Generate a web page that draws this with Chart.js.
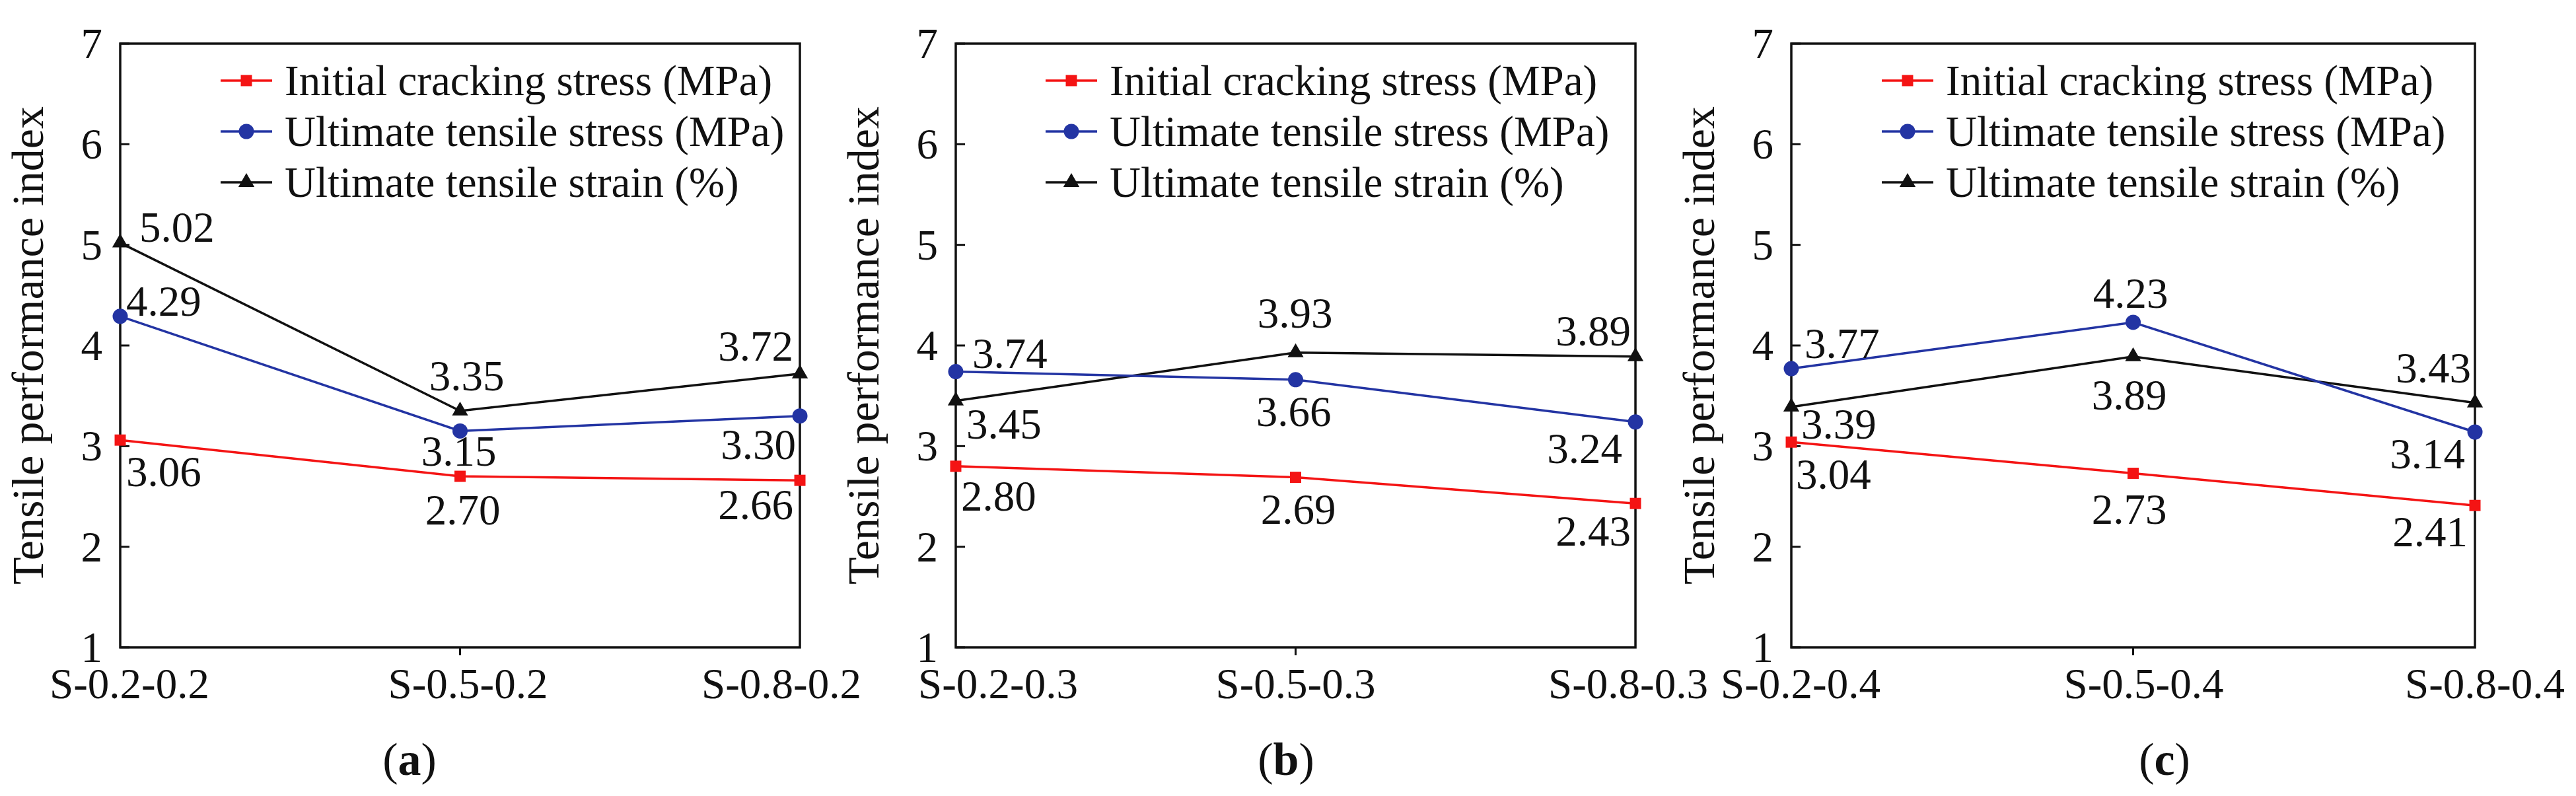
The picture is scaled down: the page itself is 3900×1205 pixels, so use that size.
<!DOCTYPE html>
<html>
<head>
<meta charset="utf-8">
<script src="https://cdn.jsdelivr.net/npm/chart.js@4.4.1/dist/chart.umd.min.js"></script>
<style>
  html, body { margin: 0; padding: 0; background: #fff; }
  body { width: 3900px; height: 1205px; position: relative; overflow: hidden; font-family: "Liberation Serif"; }
  .panel { position: absolute; top: 0; height: 1205px; }
  .cap { position: absolute; top: 1110px; font-size: 70px; color: #111; transform: translateX(-50%); }
  .lbl { position: absolute; white-space: nowrap; line-height: 1; color: #111; font-family: "Liberation Serif"; }
</style>
</head>
<body>
<div class="panel" style="left:-8px;width:1350px"><canvas id="chartA" width="1350" height="1205"></canvas></div>
<div class="panel" style="left:1257px;width:1350px"><canvas id="chartB" width="1350" height="1205"></canvas></div>
<div class="panel" style="left:2522px;width:1356px"><canvas id="chartC" width="1356" height="1205"></canvas></div>
<div class="cap" style="left:620px">(<b>a</b>)</div>
<div class="cap" style="left:1947px">(<b>b</b>)</div>
<div class="cap" style="left:3277px">(<b>c</b>)</div>
<script>
// data
var seriesNames = ['Initial cracking stress (MPa)', 'Ultimate tensile stress (MPa)', 'Ultimate tensile strain (%)'];

var categoriesA = ['S-0.2-0.2', 'S-0.5-0.2', 'S-0.8-0.2'];
var crackA = [3.06, 2.70, 2.66];
var stressA = [4.29, 3.15, 3.30];
var strainA = [5.02, 3.35, 3.72];

var categoriesB = ['S-0.2-0.3', 'S-0.5-0.3', 'S-0.8-0.3'];
var crackB = [2.80, 2.69, 2.43];
var stressB = [3.74, 3.66, 3.24];
var strainB = [3.45, 3.93, 3.89];

var categoriesC = ['S-0.2-0.4', 'S-0.5-0.4', 'S-0.8-0.4'];
var crackC = [3.04, 2.73, 2.41];
var stressC = [3.77, 4.23, 3.14];
var strainC = [3.39, 3.89, 3.43];

var yMin = 1, yMax = 7;
var yTitle = 'Tensile performance index';

Chart.defaults.font.family = '"Liberation Serif"';

var colors = ['#f41414', '#2334a3', '#111111'];
var styles = ['rect', 'circle', 'triangle'];
var radii = [12, 11.5, 14];
var HIDE = 'rgba(0,0,0,0)';

// label placement per series [dx, dy, align] (style only)
var labelPosA = [
  [[9, 48, 'left'], [4, 51, 'center'], [-10, 37, 'right']],
  [[9, -23, 'left'], [-2, 31, 'center'], [-6, 43, 'right']],
  [[29, -24, 'left'], [10, -53, 'center'], [-10, -42, 'right']]
];
var labelPosB = [
  [[8, 45, 'left'], [4, 48, 'center'], [-7, 42, 'right']],
  [[25, -28, 'left'], [-3, 48, 'center'], [-20, 40, 'right']],
  [[16, 35, 'left'], [-1, -60, 'center'], [-7, -39, 'right']]
];
var labelPosC = [
  [[7, 49, 'left'], [-6, 55, 'center'], [-11, 40, 'right']],
  [[20, -38, 'left'], [-4, -44, 'center'], [-15, 33, 'right']],
  [[15, 26, 'left'], [-6, 58, 'center'], [-6, -53, 'right']]
];
var legendRows = [56, 133, 210];

// texts go in an html layer over the canvas, placed from the chart's scales
function putText(layer, text, x, y, align, size, rotate) {
  var d = document.createElement('div');
  d.className = 'lbl';
  d.textContent = text;
  d.style.left = x + 'px';
  d.style.top = y + 'px';
  d.style.fontSize = size + 'px';
  var tx = align === 'left' ? '0' : (align === 'right' ? '-100%' : '-50%');
  d.style.transform = 'translate(' + tx + ',-50%)' + (rotate ? ' rotate(-90deg)' : '');
  layer.appendChild(d);
}

var framePlugin = {
  id: 'frame',
  beforeDatasetsDraw: function (chart) {
    var a = chart.chartArea, ctx = chart.ctx, y = chart.scales.y, x = chart.scales.x;
    ctx.save();
    ctx.strokeStyle = '#111';
    ctx.lineWidth = 3.5;
    ctx.strokeRect(a.left, a.top, a.right - a.left, a.bottom - a.top);
    ctx.lineWidth = 3;
    y.ticks.forEach(function (t) {
      var py = y.getPixelForValue(t.value);
      ctx.beginPath(); ctx.moveTo(a.left, py); ctx.lineTo(a.left + 14, py); ctx.stroke();
    });
    var mx = x.getPixelForValue(1);
    ctx.beginPath(); ctx.moveTo(mx, a.bottom); ctx.lineTo(mx, a.bottom + 12); ctx.stroke();
    ctx.restore();
  },
  afterDatasetsDraw: function (chart) {
    var ctx = chart.ctx, opts = chart.options.plugins.frame, a = chart.chartArea;
    ctx.save();
    chart.data.datasets.forEach(function (ds, i) {
      var ly = a.top + legendRows[i];
      var lx = a.left + opts.legendX;
      ctx.strokeStyle = ds.borderColor;
      ctx.lineWidth = 3.5;
      ctx.beginPath(); ctx.moveTo(lx, ly); ctx.lineTo(lx + 78, ly); ctx.stroke();
      ctx.fillStyle = ds.borderColor;
      Chart.helpers.drawPoint(ctx, { pointStyle: ds.pointStyle, radius: ds.pointRadius, borderWidth: 0 }, lx + 39, ly);
    });
    ctx.restore();
  },
  afterRender: function (chart) {
    var box = chart.canvas.parentNode, opts = chart.options.plugins.frame, a = chart.chartArea;
    var old = box.querySelector('.layer');
    if (old) old.remove();
    var layer = document.createElement('div');
    layer.className = 'layer';
    box.appendChild(layer);
    var xs = chart.scales.x, ys = chart.scales.y;
    ys.ticks.forEach(function (t) {
      putText(layer, t.label, a.left - 27, ys.getPixelForValue(t.value), 'right', 65);
    });
    xs.ticks.forEach(function (t, i) {
      putText(layer, chart.data.labels[i], xs.getPixelForTick(i) + opts.xShift[i], a.bottom + 55, 'center', 65);
    });
    putText(layer, yTitle, a.left - 140, (a.top + a.bottom) / 2, 'center', 68, true);
    chart.data.datasets.forEach(function (ds, i) {
      chart.getDatasetMeta(i).data.forEach(function (pt, j) {
        var p = opts.labels[i][j];
        putText(layer, ds.data[j].toFixed(2), pt.x + p[0], pt.y + p[1], p[2], 65);
      });
      putText(layer, ds.label, a.left + opts.legendX + 97, a.top + legendRows[i], 'left', 65);
    });
  }
};

function makeChart(id, cats, series, labelPos, legendX, xShift) {
  var datasets = series.map(function (vals, i) {
    return {
      label: seriesNames[i],
      data: vals,
      borderColor: colors[i],
      backgroundColor: colors[i],
      pointBackgroundColor: colors[i],
      pointBorderColor: colors[i],
      pointBorderWidth: 0,
      pointStyle: styles[i],
      pointRadius: radii[i],
      borderWidth: 3.5,
      tension: 0,
      clip: false
    };
  });
  return new Chart(document.getElementById(id), {
    type: 'line',
    data: { labels: cats, datasets: datasets },
    options: {
      responsive: false,
      animation: false,
      events: [],
      layout: { padding: { left: 0, right: 130, top: 55, bottom: 0 } },
      plugins: {
        legend: { display: false },
        tooltip: { enabled: false },
        frame: { labels: labelPos, legendX: legendX, xShift: xShift }
      },
      scales: {
        x: {
          type: 'category',
          offset: false,
          grid: { display: false, drawTicks: false },
          border: { display: false },
          ticks: { font: { size: 65 }, padding: 10, maxRotation: 0, autoSkip: false, color: HIDE },
          afterFit: function (s) { s.height = 225; }
        },
        y: {
          min: yMin, max: yMax,
          grid: { display: false, drawTicks: false },
          border: { display: false },
          ticks: { stepSize: 1, font: { size: 65 }, padding: 27, color: HIDE },
          title: { display: true, text: yTitle, font: { size: 68 }, padding: { top: 9, bottom: 0 }, color: HIDE },
          afterFit: function (s) { s.width = 190; }
        }
      }
    },
    plugins: [framePlugin]
  });
}

makeChart('chartA', categoriesA, [crackA, stressA, strainA], labelPosA, 152, [14, 12, -28]);
makeChart('chartB', categoriesB, [crackB, stressB, strainB], labelPosB, 136, [64, 0, -11]);
makeChart('chartC', categoriesC, [crackC, stressC, strainC], labelPosC, 137, [14, 16, 15]);
</script>
</body>
</html>
